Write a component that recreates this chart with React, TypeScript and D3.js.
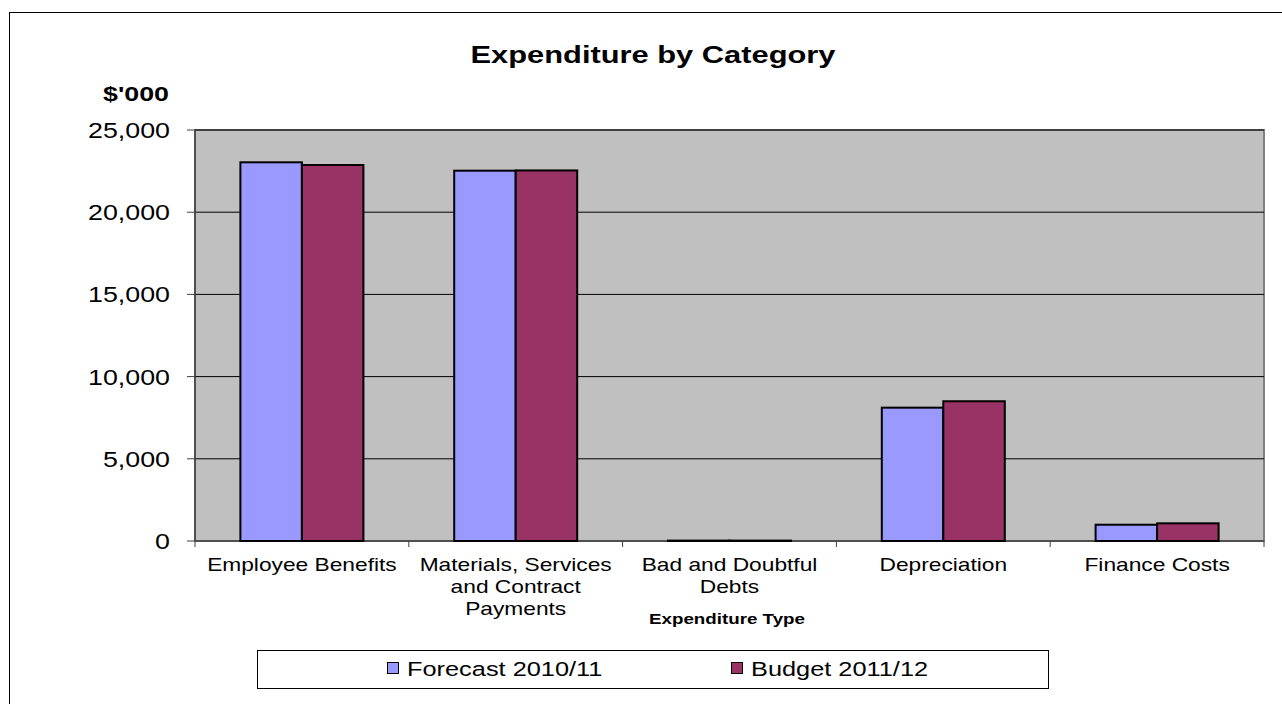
import React from "react";
import * as d3 from "d3";

const categories: string[][] = [
  ["Employee Benefits"],
  ["Materials, Services", "and Contract", "Payments"],
  ["Bad and Doubtful", "Debts"],
  ["Depreciation"],
  ["Finance Costs"],
];
const seriesNames = ["Forecast 2010/11", "Budget 2011/12"];
const forecast = [23035, 22525, 25, 8110, 990];
const budget = [22870, 22540, 25, 8500, 1075];
const yTicks = [0, 5000, 10000, 15000, 20000, 25000];
const colors = ["#9999FF", "#993366"];

// horizontal stretch so that text of a given height spans the reference's width
const WIDTH_PER_SIZE = 26.8;

function T(props: { x: number; y: number; anchor?: string; size: number; bold?: boolean; sx?: number; children: React.ReactNode }) {
  const { x, y, anchor = "start", size, bold, children } = props;
  const sx = props.sx ?? 1.34;
  return (
    <text transform={`translate(${x},${y}) scale(${sx},1)`} textAnchor={anchor} fontSize={size}
      fontWeight={bold ? "bold" : "normal"} fill="#000">{children}</text>
  );
}

export default function App() {
  const W = 1282, H = 704;
  const left = 195, right = 1264, top = 130, bottom = 541;
  const font = "Liberation Sans, Arial, sans-serif";
  const x = d3.scaleBand<number>().domain(d3.range(categories.length)).range([left, right]);
  const y = d3.scaleLinear().domain([0, 25000]).range([bottom, top]);
  const bw = 61.5;
  const data = [forecast, budget];
  const fmt = d3.format(",");
  return (
    <svg width={W} height={H} style={{ position: "absolute", left: 0, top: 0 }} fontFamily={font}>
      <rect x={0} y={0} width={W} height={H} fill="#fff" />
      <rect x={9.5} y={12.5} width={1300} height={800} fill="#fff" stroke="#000" strokeWidth={1} />
      <T x={653} y={63} anchor="middle" size={24} sx={1.285} bold>Expenditure by Category</T>
      <T x={136} y={101} anchor="middle" size={20} bold>$'000</T>
      <rect x={left} y={top} width={right - left} height={bottom - top} fill="#C0C0C0" stroke="#808080" strokeWidth={2} />
      {yTicks.map((t) => (
        <g key={t}>
          {t > 0 && <line x1={left} x2={right} y1={y(t)} y2={y(t)} stroke="#000" strokeWidth={1} />}
          <line x1={187} x2={left} y1={y(t)} y2={y(t)} stroke="#404040" strokeWidth={1} />
          <T x={170} y={y(t) + 8} anchor="end" size={21.5} sx={WIDTH_PER_SIZE / 21.5}>{fmt(t)}</T>
        </g>
      ))}
      <line x1={left} x2={left} y1={top} y2={bottom} stroke="#404040" strokeWidth={1.5} />
      <line x1={left} x2={right} y1={bottom} y2={bottom} stroke="#404040" strokeWidth={1.5} />
      {d3.range(categories.length + 1).map((i) => {
        const xx = left + i * x.bandwidth();
        return <line key={i} x1={xx} x2={xx} y1={bottom} y2={bottom + 6} stroke="#404040" strokeWidth={1} />;
      })}
      {categories.map((c, i) => {
        const cx = (x(i) as number) + x.bandwidth() / 2;
        return (
          <g key={i}>
            {data.map((s, k) => (
              <rect key={k} x={cx - bw + k * bw} y={y(s[i])} width={bw} height={bottom - y(s[i])}
                fill={colors[k]} stroke="#000" strokeWidth={2} />
            ))}
            {c.map((line, j) => (
              <T key={j} x={cx} y={571 + j * 22} anchor="middle" size={17.5} sx={1.3}>{line}</T>
            ))}
          </g>
        );
      })}
      <T x={727} y={624} anchor="middle" size={14} bold>Expenditure Type</T>
      <rect x={257.5} y={650.5} width={791} height={38} fill="#fff" stroke="#000" strokeWidth={1} />
      {seriesNames.map((n, k) => {
        const lx = [387, 731][k];
        return (
          <g key={k}>
            <rect x={lx + 0.5} y={662.5} width={11} height={11} fill={colors[k]} stroke="#000" strokeWidth={1} />
            <T x={lx + 20} y={676} size={19.5} sx={1.3}>{n}</T>
          </g>
        );
      })}
    </svg>
  );
}
